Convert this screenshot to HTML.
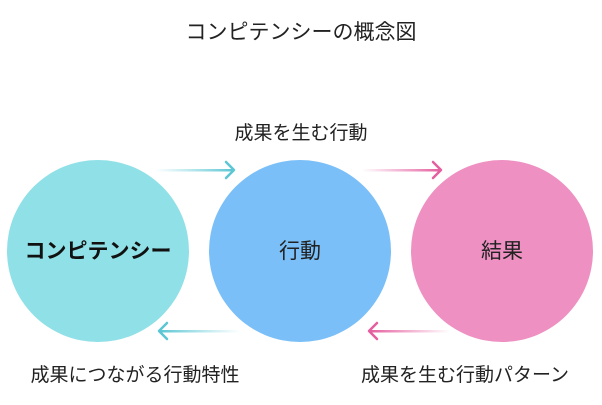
<!DOCTYPE html>
<html><head><meta charset="utf-8"><style>
body{margin:0;width:602px;height:400px;background:#fff;overflow:hidden;font-family:"Liberation Sans","Noto Sans CJK JP",sans-serif;}
</style></head><body>
<svg width="602" height="400" xmlns="http://www.w3.org/2000/svg" font-family="Liberation Sans, Noto Sans CJK JP, sans-serif">
<defs>
<linearGradient id="cr" x1="0" x2="1"><stop offset="0" stop-color="#6fd0dc" stop-opacity="0"/><stop offset="1" stop-color="#5cc6d4"/></linearGradient>
<linearGradient id="cl" x1="1" x2="0"><stop offset="0" stop-color="#6fd0dc" stop-opacity="0"/><stop offset="1" stop-color="#5cc6d4"/></linearGradient>
<linearGradient id="pr" x1="0" x2="1"><stop offset="0" stop-color="#e76aa8" stop-opacity="0"/><stop offset="1" stop-color="#e45f9f"/></linearGradient>
<linearGradient id="pl" x1="1" x2="0"><stop offset="0" stop-color="#e76aa8" stop-opacity="0"/><stop offset="1" stop-color="#e45f9f"/></linearGradient>
</defs>
<text x="301" y="39" font-size="21" text-anchor="middle" fill="#222">コンピテンシーの概念図</text>
<text x="301" y="139" font-size="19" text-anchor="middle" fill="#222">成果を生む行動</text>
<circle cx="98" cy="251" r="91" fill="#90e0e7"/>
<circle cx="300" cy="251" r="91" fill="#7abff7"/>
<circle cx="502" cy="251" r="91" fill="#ee90c2"/>
<text x="98" y="258" font-size="21" font-weight="bold" text-anchor="middle" fill="#111">コンピテンシー</text>
<text x="300" y="258" font-size="21" text-anchor="middle" fill="#222">行動</text>
<text x="502" y="258" font-size="21" text-anchor="middle" fill="#222">結果</text>
<rect x="155" y="169" width="78" height="2.5" fill="url(#cr)"/>
<rect x="362" y="169" width="78" height="2.5" fill="url(#pr)"/>
<rect x="160" y="330" width="80" height="2.5" fill="url(#cl)"/>
<rect x="370" y="330" width="80" height="2.5" fill="url(#pl)"/>
<g fill="none" stroke-width="2.5" stroke-linecap="round" stroke-linejoin="round">
<polyline points="226,162 234,170 226,178" stroke="#5cc6d4"/>
<polyline points="433,162 441,170 433,178" stroke="#e45f9f"/>
<polyline points="167,323 159,331 167,339" stroke="#5cc6d4"/>
<polyline points="377,323 369,331 377,339" stroke="#e45f9f"/>
</g>
<text x="135" y="381" font-size="19" text-anchor="middle" fill="#222">成果につながる行動特性</text>
<text x="465" y="381" font-size="19" text-anchor="middle" fill="#222">成果を生む行動パターン</text>
</svg>
</body></html>
